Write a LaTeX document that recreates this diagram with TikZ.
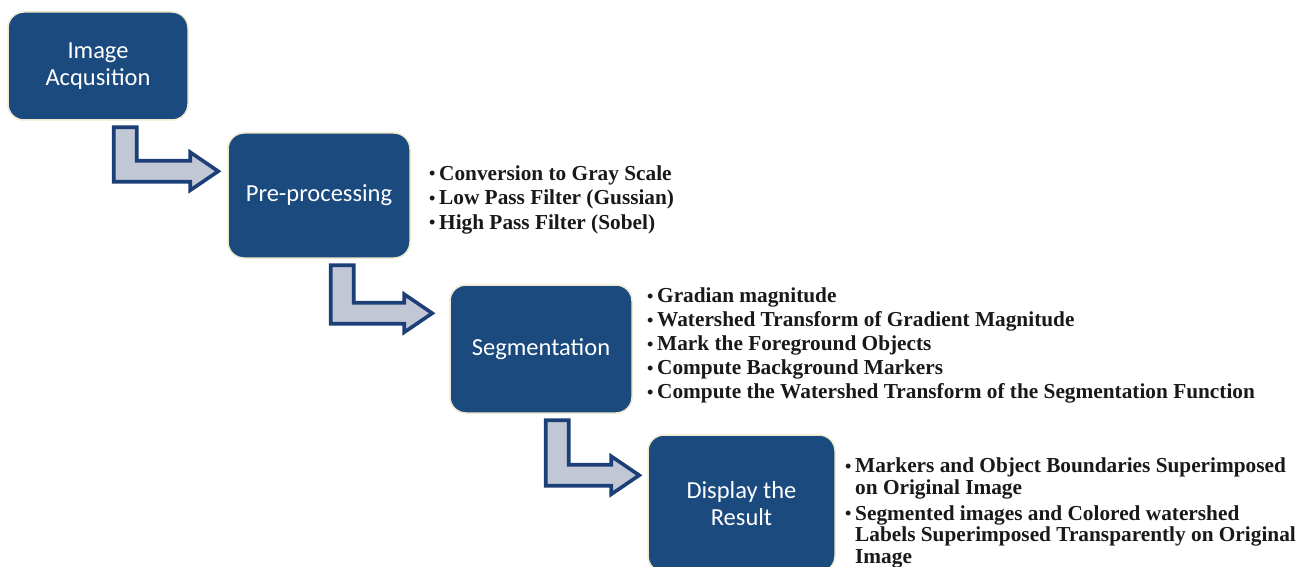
\documentclass[tikz,border=0pt]{standalone}
\usepackage{fontspec}
\setmainfont{Liberation Serif}
\newfontfamily\boxfont{Carlito}
\usetikzlibrary{calc}
\definecolor{boxblue}{HTML}{1B4A7F}
\definecolor{boxedge}{HTML}{EEE9CF}
\definecolor{arrowfill}{HTML}{C2C7D5}
\definecolor{arrowedge}{HTML}{1D3F77}
\tikzset{
  stepbox/.style={draw=boxedge, line width=1.5pt, fill=boxblue, rounded corners=16pt,
    text=white, font=\boxfont\fontsize{24.5}{26.5}\selectfont, align=center, inner sep=0pt},
  blockarrow/.style={draw=arrowedge, fill=arrowfill, line width=3.6pt, line join=miter},
  bullets/.style={anchor=north west, align=left, inner sep=0pt, text=black!90}
}
\newcommand\bul{\makebox[10pt][l]{\fontsize{18}{18}\selectfont\raisebox{0.6pt}{•}}}
\newcommand\ind{\hspace*{10pt}}
% #1 source, #2 target, #3 shaft offset, #4 gap to target, #5 tip below target top
\newcommand\blockarr[5]{%
  \draw[blockarrow] let \p1=(#1.south west), \p3=($(#2.north west)+(-#4pt,-#5pt)$) in
    (\x1+#3pt,\y1-6.5pt) -- (\x1+#3pt+23pt,\y1-6.5pt) -- (\x1+#3pt+23pt,\y3+10.5pt)
    -- (\x3-28pt,\y3+10.5pt) -- (\x3-28pt,\y3+19pt) -- (\x3,\y3)
    -- (\x3-28pt,\y3-19pt) -- (\x3-28pt,\y3-10.5pt) -- (\x1+#3pt,\y3-10.5pt) -- cycle;}
\begin{document}
\begin{tikzpicture}[x=1pt,y=-1pt]
\useasboundingbox (0,0) rectangle (1312,567);
\clip (0,0) rectangle (1312,567);
\fill[white] (0,0) rectangle (1312,567);

\node[stepbox, minimum width=180pt, minimum height=108pt] (acq) at (98,66) {Image\\Acqusition};
\node[stepbox, minimum width=182pt, minimum height=125pt] (pre) at (319,195.5) {Pre-processing};
\node[stepbox, minimum width=182pt, minimum height=128pt] (seg) at (541,349) {Segmentation};
\node[stepbox, minimum width=187pt, minimum height=137pt] (res) at (741.5,503.5) {Display the\\Result};

\blockarr{acq}{pre}{106.5}{9}{39}
\blockarr{pre}{seg}{103.5}{17}{29}
\blockarr{seg}{res}{96.5}{8}{41}

\node[bullets, font=\bfseries\fontsize{21.3}{24.5}\selectfont] (prelist) at (429,165.5)
  {\bul Conversion to Gray Scale\\ \bul Low Pass Filter (Gussian)\\ \bul High Pass Filter (Sobel)};
\node[bullets, font=\bfseries\fontsize{21.3}{24}\selectfont] (seglist) at (647,288)
  {\bul Gradian magnitude\\ \bul Watershed Transform of Gradient Magnitude\\ \bul Mark the Foreground Objects\\ \bul Compute Background Markers\\ \bul Compute the Watershed Transform of the Segmentation Function};
\node[bullets, font=\bfseries\fontsize{21.3}{21.5}\selectfont] (reslist) at (845,458)
  {\bul Markers and Object Boundaries Superimposed\\ \ind on Original Image\\[4.5pt]
   \bul Segmented images and Colored watershed\\ \ind Labels Superimposed Transparently on Original\\ \ind Image};
\end{tikzpicture}
\end{document}
